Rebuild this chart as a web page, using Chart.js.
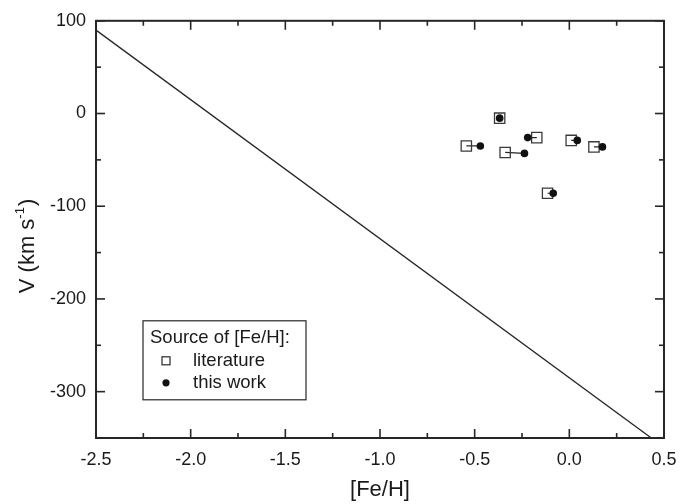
<!DOCTYPE html>
<html>
<head>
<meta charset="utf-8">
<script src="https://cdn.jsdelivr.net/npm/chart.js@4.4.1/dist/chart.umd.min.js"></script>
<style>
  html, body { margin: 0; padding: 0; background: #ffffff; }
  #wrap { width: 697px; height: 504px; }
</style>
</head>
<body>
<div id="wrap"><canvas id="c" width="697" height="504"></canvas></div>
<script>
// ---- data ----
const feLiterature = [-0.368, -0.544, -0.339, -0.172, 0.010, 0.130, -0.115];
const vLiterature  = [-5, -35, -42, -26, -29, -36, -86];
const feThisWork   = [-0.368, -0.470, -0.237, -0.220, 0.042, 0.175, -0.085];
const vThisWork    = [-5, -35, -43, -26, -29, -36, -86];

const relationFe = [-2.5, 0.433];
const relationV  = [90, -350];

const xMajorTicks = [-2.5, -2.0, -1.5, -1.0, -0.5, 0.0, 0.5];
const xMinorTicks = [-2.25, -1.75, -1.25, -0.75, -0.25, 0.25];
const yMajorTicks = [-300, -200, -100, 0, 100];
const yMinorTicks = [-350, -250, -150, -50, 50];

const xTitle = '[Fe/H]';
const yTitleMain = 'V (km s';
const yTitleSup = '-1';
const yTitleEnd = ')';
const legendTitle = 'Source of [Fe/H]:';
const labelLiterature = 'literature';
const labelThisWork = 'this work';

const INK = '#262626';
const TEXT = '#1a1a1a';
const FONT = "'Liberation Sans', Arial, Helvetica, sans-serif";

const connectors = feLiterature.map((fe, i) => ({
  type: 'scatter',
  label: 'link' + i,
  data: [{x: fe, y: vLiterature[i]}, {x: feThisWork[i], y: vThisWork[i]}],
  showLine: true,
  borderColor: INK,
  borderWidth: 1.2,
  pointRadius: 0,
  order: 2
}));

const datasets = [
  {
    type: 'scatter',
    label: 'relation',
    data: relationFe.map((x, i) => ({x, y: relationV[i]})),
    showLine: true,
    borderColor: INK,
    borderWidth: 1.3,
    pointRadius: 0,
    order: 3
  },
  ...connectors,
  {
    type: 'scatter',
    label: labelLiterature,
    data: feLiterature.map((x, i) => ({x, y: vLiterature[i]})),
    pointStyle: 'rect',
    pointRadius: 7.3,
    pointBorderWidth: 1.3,
    pointBorderColor: '#3a3a3a',
    pointBackgroundColor: 'rgba(0,0,0,0)',
    order: 1
  },
  {
    type: 'scatter',
    label: labelThisWork,
    data: feThisWork.map((x, i) => ({x, y: vThisWork[i]})),
    pointStyle: 'circle',
    pointRadius: 3.8,
    pointBorderWidth: 0,
    pointBackgroundColor: '#111111',
    pointBorderColor: '#111111',
    order: 0
  }
];

const framePlugin = {
  id: 'frameTicks',
  afterDraw(chart) {
    const ctx = chart.ctx;
    const a = chart.chartArea;
    const xs = chart.scales.x, ys = chart.scales.y;
    ctx.save();
    ctx.strokeStyle = INK;
    ctx.lineWidth = 1.6;
    const tick = (x1, y1, x2, y2) => { ctx.beginPath(); ctx.moveTo(x1, y1); ctx.lineTo(x2, y2); ctx.stroke(); };
    xMajorTicks.forEach(v => { const p = xs.getPixelForValue(v); tick(p, a.bottom, p, a.bottom - 9); tick(p, a.top, p, a.top + 9); });
    xMinorTicks.forEach(v => { const p = xs.getPixelForValue(v); tick(p, a.bottom, p, a.bottom - 5); tick(p, a.top, p, a.top + 5); });
    yMajorTicks.forEach(v => { const p = ys.getPixelForValue(v); tick(a.left, p, a.left + 9, p); tick(a.right, p, a.right - 9, p); });
    yMinorTicks.forEach(v => { const p = ys.getPixelForValue(v); tick(a.left, p, a.left + 5, p); tick(a.right, p, a.right - 5, p); });
    ctx.lineWidth = 2;
    ctx.strokeRect(a.left, a.top, a.right - a.left, a.bottom - a.top);

    // y-axis title with superscript
    ctx.save();
    ctx.translate(28, 246);
    ctx.rotate(-Math.PI / 2);
    ctx.fillStyle = TEXT;
    ctx.textBaseline = 'middle';
    ctx.textAlign = 'left';
    const big = '22px ' + FONT, small = '13px ' + FONT;
    ctx.font = big; const w1 = ctx.measureText(yTitleMain).width; const w3 = ctx.measureText(yTitleEnd).width;
    ctx.font = small; const w2 = ctx.measureText(yTitleSup).width;
    let sx = -(w1 + w2 + w3 + 1) / 2;
    ctx.font = big; ctx.fillText(yTitleMain, sx, 0); sx += w1;
    ctx.font = small; ctx.fillText(yTitleSup, sx, -8); sx += w2 + 1;
    ctx.font = big; ctx.fillText(yTitleEnd, sx, 0);
    ctx.restore();

    // legend box
    const lx = a.left + 47, ly = a.top + 300, lw = 163, lh = 79;
    ctx.fillStyle = '#ffffff';
    ctx.fillRect(lx, ly, lw, lh);
    ctx.lineWidth = 1.2;
    ctx.strokeStyle = INK;
    ctx.strokeRect(lx, ly, lw, lh);
    ctx.fillStyle = TEXT;
    ctx.font = '18.5px ' + FONT;
    ctx.textBaseline = 'middle';
    ctx.textAlign = 'left';
    ctx.fillText(legendTitle, lx + 7, ly + 17);
    ctx.fillText(labelLiterature, lx + 50, ly + 40);
    ctx.fillText(labelThisWork, lx + 50, ly + 62);
    ctx.lineWidth = 1.3;
    ctx.strokeStyle = '#3a3a3a';
    ctx.strokeRect(lx + 19, ly + 36, 8, 8);
    ctx.fillStyle = '#111111';
    ctx.beginPath(); ctx.arc(lx + 23, ly + 62, 3.6, 0, Math.PI * 2); ctx.fill();
    ctx.restore();
  }
};

new Chart(document.getElementById('c'), {
  type: 'scatter',
  data: { datasets },
  options: {
    responsive: false,
    devicePixelRatio: 1,
    animation: false,
    layout: { padding: { top: 20, right: 33, left: 0, bottom: 0 } },
    plugins: { legend: { display: false }, tooltip: { enabled: false } },
    scales: {
      x: {
        type: 'linear',
        min: -2.5, max: 0.5,
        afterBuildTicks: s => { s.ticks = xMajorTicks.map(v => ({value: v})); },
        afterFit: s => { s.height = 66; },
        grid: { display: false, drawTicks: false },
        border: { display: false },
        ticks: {
          padding: 11,
          color: TEXT,
          font: { family: FONT, size: 18 },
          callback: v => Number(v).toFixed(1),
          maxRotation: 0
        },
        title: {
          display: true, text: xTitle, color: TEXT,
          font: { family: FONT, size: 22 }, padding: { top: 0, bottom: 1 }
        }
      },
      y: {
        type: 'linear',
        min: -350, max: 100,
        afterBuildTicks: s => { s.ticks = yMajorTicks.map(v => ({value: v})); },
        afterFit: s => { s.width = 96; },
        grid: { display: false, drawTicks: false },
        border: { display: false },
        ticks: {
          padding: 10,
          color: TEXT,
          font: { family: FONT, size: 18 },
          callback: v => String(v)
        },
        title: { display: false }
      }
    }
  },
  plugins: [framePlugin]
});
</script>
</body>
</html>
